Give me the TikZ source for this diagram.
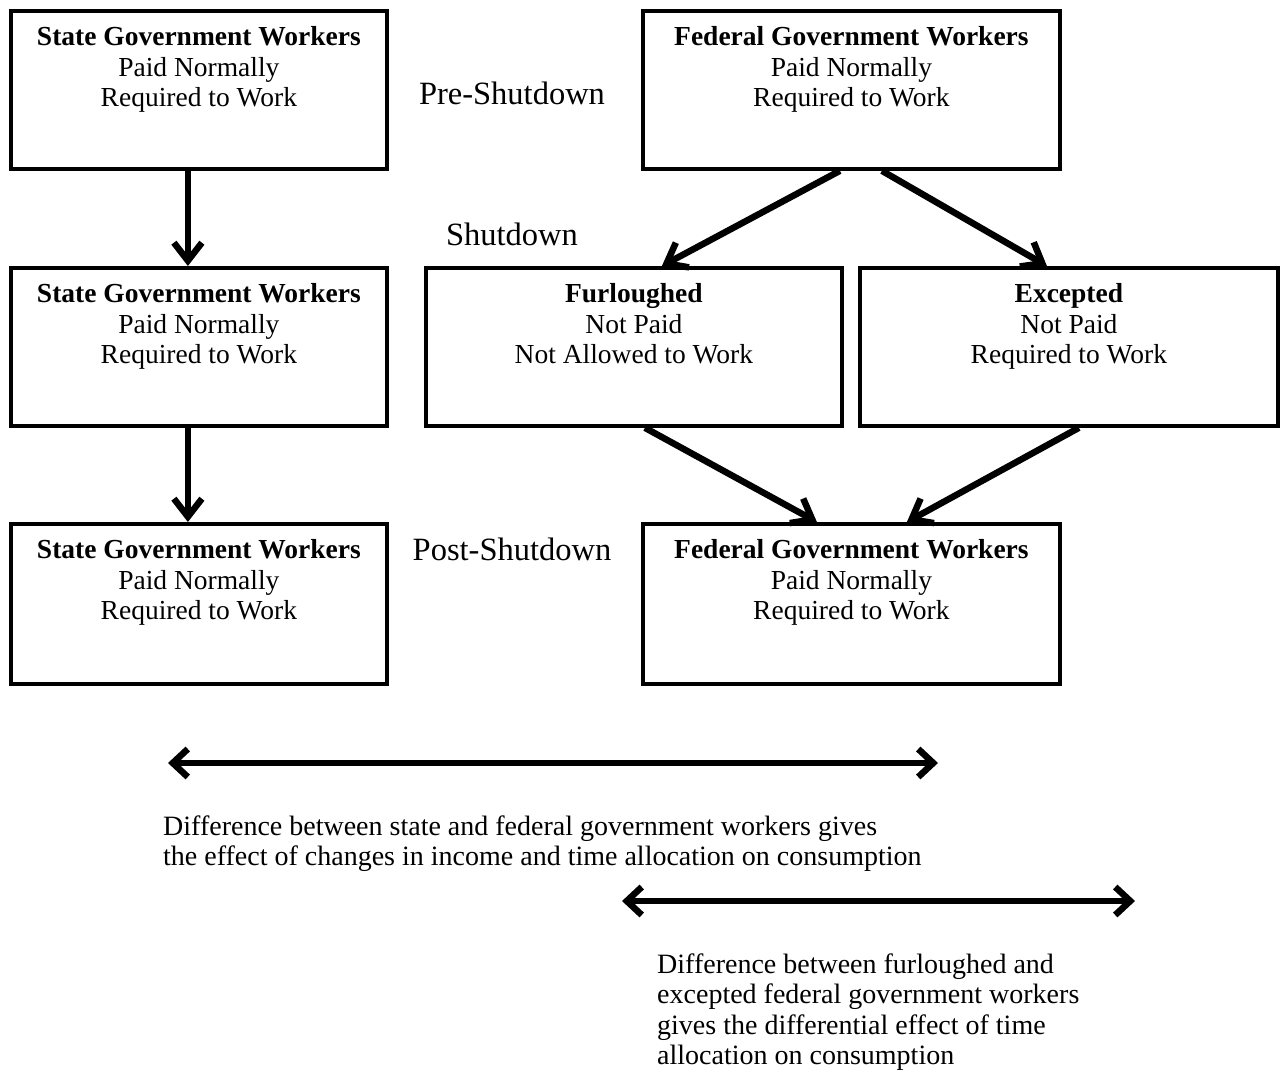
\documentclass[tikz,border=0pt]{standalone}
\usepackage{fontspec}
\setmainfont{Liberation Serif}
\usetikzlibrary{arrows.meta}
\newcommand{\boxtext}[5]{\parbox[t][#2][t]{#1}{\centering\fontsize{27.5}{30.5}\selectfont\rule{0pt}{35pt}\textbf{#3}\\#4\\#5}}
\newcommand{\notetext}[2]{\parbox[t]{#1}{\raggedright\fontsize{28}{30.5}\selectfont #2}}
\begin{document}
\begin{tikzpicture}[x=1pt,y=-1pt,
  box/.style={draw,line width=3.8pt,inner sep=0pt,anchor=north west},
  flow/.style={line width=6.5pt,-{Straight Barb[length=18pt,width=28pt]}},
  both/.style={line width=6.5pt,{Straight Barb[length=15pt,width=28pt]}-{Straight Barb[length=15pt,width=28pt]}},
  stage/.style={font=\fontsize{32.5}{36}\selectfont,anchor=base,inner sep=0pt},
  note/.style={anchor=base west,inner sep=0pt}]
\useasboundingbox[fill=white] (0,0) rectangle (1282,1070);

\node[box] (s1) at (9,9) {\boxtext{376pt}{158pt}{State Government Workers}{Paid Normally}{Required to Work}};
\node[box] (f1) at (641,9) {\boxtext{417pt}{158pt}{Federal Government Workers}{Paid Normally}{Required to Work}};
\node[box] (s2) at (9,266) {\boxtext{376pt}{158pt}{State Government Workers}{Paid Normally}{Required to Work}};
\node[box] (fu) at (424,266) {\boxtext{416pt}{158pt}{Furloughed}{Not Paid}{Not Allowed to Work}};
\node[box] (ex) at (858,266) {\boxtext{418pt}{158pt}{Excepted}{Not Paid}{Required to Work}};
\node[box] (s3) at (9,522) {\boxtext{376pt}{160pt}{State Government Workers}{Paid Normally}{Required to Work}};
\node[box] (f3) at (641,522) {\boxtext{417pt}{160pt}{Federal Government Workers}{Paid Normally}{Required to Work}};

\node[stage] (pre) at (512,105) {Pre-Shutdown};
\node[stage] (shut) at (512,245) {Shutdown};
\node[stage] (post) at (512,560) {Post-Shutdown};

\draw[flow] ([xshift=-11pt]s1.south) -- ([xshift=-11pt]s2.north);
\draw[flow] ([xshift=-11pt]s2.south) -- ([xshift=-11pt]s3.north);
\draw[flow] ([xshift=-11.5pt]f1.south) -- ([xshift=28pt]fu.north);
\draw[flow] ([xshift=30.5pt]f1.south) -- ([xshift=-22pt]ex.north);
\draw[flow] ([xshift=11pt]fu.south) -- ([xshift=-34.5pt]f3.north);
\draw[flow] ([xshift=10pt]ex.south) -- ([xshift=55.5pt]f3.north);

\coordinate (a1l) at (168,763);
\coordinate (a1r) at (938,763);
\coordinate (a2l) at (622,901);
\coordinate (a2r) at (1135,901);
\draw[both] (a1l) -- (a1r);
\draw[both] (a2l) -- (a2r);

\node[note] (n1) at (163,835) {\notetext{800pt}{Difference between state and federal government workers gives\\the effect of changes in income and time allocation on consumption}};
\node[note] (n2) at (657,973) {\notetext{500pt}{Difference between furloughed and\\excepted federal government workers\\gives the differential effect of time\\allocation on consumption}};
\end{tikzpicture}
\end{document}
